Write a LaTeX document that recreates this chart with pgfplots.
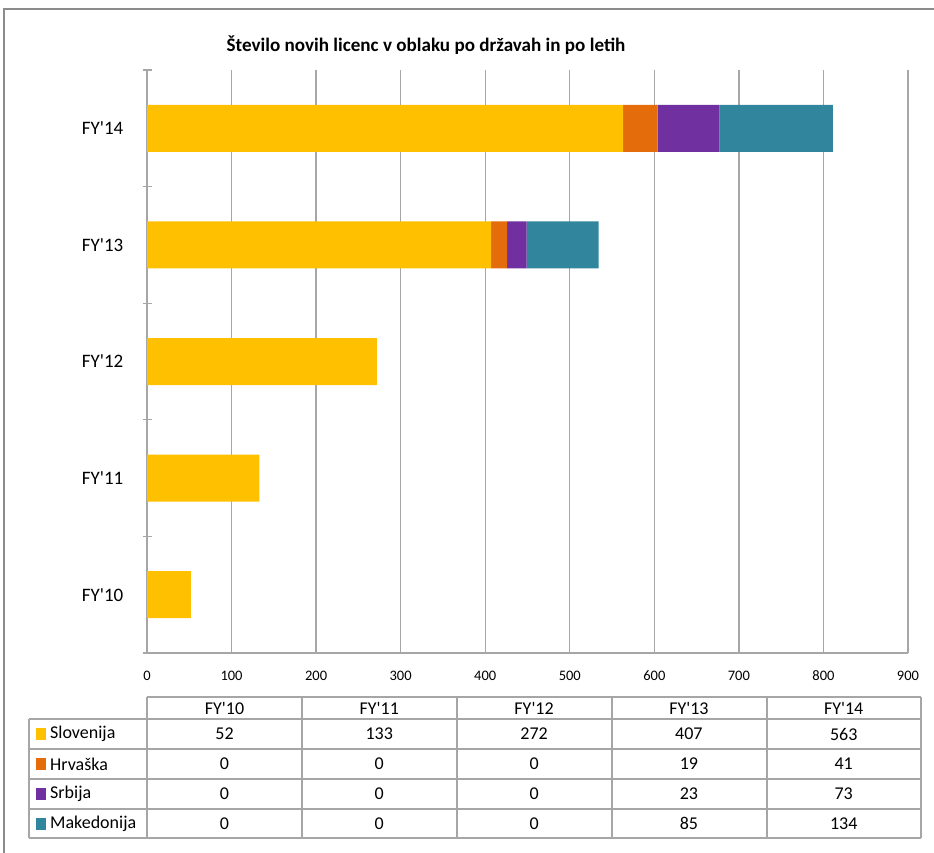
\documentclass[border=0pt]{standalone}
\usepackage{pgfplots}
\pgfplotsset{compat=1.18}
\usepackage{fontspec}
\setmainfont{Carlito}
\definecolor{slov}{HTML}{FFC000}
\definecolor{hrv}{HTML}{E46C0A}
\definecolor{srb}{HTML}{7030A0}
\definecolor{mak}{HTML}{31859C}
\definecolor{gridc}{HTML}{A6A6A6}
\definecolor{framec}{HTML}{8C8C8C}
\newcommand{\ap}{\textquotesingle}
\begin{document}
\begin{tikzpicture}[x=1pt,y=1pt]
\path[use as bounding box] (0,0) rectangle (934,-853);
% outer frame
\draw[framec, line width=1.2pt] (4,-853) -- (4,-9) -- (934,-9);
% title
\node[font=\fontsize{19.1}{22}\selectfont\bfseries] at (426,-45) {Število novih licenc v oblaku po državah in po letih};
\begin{axis}[
  at={(147pt,-653pt)}, anchor=south west,
  scale only axis, width=761pt, height=583pt,
  xmin=0, xmax=900, ymin=-0.5, ymax=4.5,
  xbar stacked, bar width=47pt,
  xtick={0,100,...,900},
  xmajorgrids,
  grid style={draw=gridc, line width=1.3pt},
  axis x line*=bottom, axis y line*=left,
  axis line style={draw=gridc, line width=1.3pt, -},
  ytick={0,1,2,3,4},
  yticklabels={FY\ap10,FY\ap11,FY\ap12,FY\ap13,FY\ap14},
  xtick style={draw=none}, ytick style={draw=none},
  minor ytick={-0.5,0.5,1.5,2.5,3.5,4.5},
  minor y tick style={draw=gridc, line width=1.3pt},
  minor tick length=9pt, tick align=center,
  /pgf/number format/assume math mode=true,
  xticklabel style={font=\fontsize{14.5}{17}\selectfont, yshift=-12pt},
  yticklabel style={font=\fontsize{19}{22}\selectfont, xshift=-18pt},
  clip=false,
]
\addplot+[fill=slov, draw=none] coordinates {(52,0) (133,1) (272,2) (407,3) (563,4)};
\addplot+[fill=hrv, draw=none] coordinates {(0,0) (0,1) (0,2) (19,3) (41,4)};
\addplot+[fill=srb, draw=none] coordinates {(0,0) (0,1) (0,2) (23,3) (73,4)};
\addplot+[fill=mak, draw=none] coordinates {(0,0) (0,1) (0,2) (85,3) (134,4)};
\end{axis}
% data table
\begin{scope}[draw=gridc, line width=1.3pt]
\draw (147,-697) -- (921,-697);
\draw (29,-719) -- (921,-719);
\draw (29,-749) -- (921,-749);
\draw (29,-779) -- (921,-779);
\draw (29,-809) -- (921,-809);
\draw (29,-838) -- (921,-838);
\draw (29,-719) -- (29,-838);
\foreach \x in {147,302,457,612,767,921} {\draw (\x,-697) -- (\x,-838);}
\end{scope}
\foreach \lab [count=\i from 0] in {FY\ap10,FY\ap11,FY\ap12,FY\ap13,FY\ap14} {
  \node[font=\fontsize{18}{21}\selectfont] at (224.5+\i*154.8,-708) {\lab};
}
\foreach \nm/\col/\yy in {Slovenija/slov/734,Hrvaška/hrv/764,Srbija/srb/794,Makedonija/mak/823.5} {
  \fill[\col] (36,-\yy-6) rectangle (46,\yy*-1+6);
  \node[anchor=west, font=\fontsize{18}{21}\selectfont, inner sep=0pt] at (50,-\yy) {\nm};
}
\foreach \a/\b/\c/\d/\e/\yy in {52/133/272/407/563/734, 0/0/0/19/41/764, 0/0/0/23/73/794, 0/0/0/85/134/823.5} {
  \node[font=\fontsize{18}{21}\selectfont] at (224.5,-\yy) {\a};
  \node[font=\fontsize{18}{21}\selectfont] at (379.3,-\yy) {\b};
  \node[font=\fontsize{18}{21}\selectfont] at (534.1,-\yy) {\c};
  \node[font=\fontsize{18}{21}\selectfont] at (688.9,-\yy) {\d};
  \node[font=\fontsize{18}{21}\selectfont] at (843.7,-\yy) {\e};
}
\end{tikzpicture}
\end{document}
